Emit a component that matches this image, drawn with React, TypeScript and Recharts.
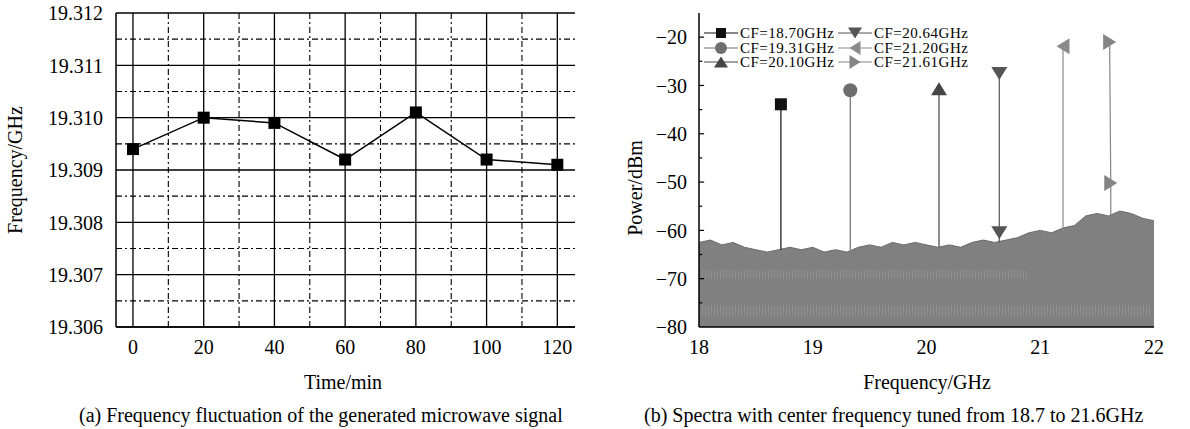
import React from 'react';
import { ComposedChart, LineChart, Line, Area, XAxis, YAxis, CartesianGrid, ReferenceLine, ReferenceArea } from 'recharts';

const FONT = '"Liberation Serif", "Times New Roman", serif';

// ---- (a) frequency fluctuation ----
const timeMin = [0, 20, 40, 60, 80, 100, 120];
const freqGHz = [19.3094, 19.31, 19.3099, 19.3092, 19.3101, 19.3092, 19.3091];
const freqTicks = [19.306, 19.307, 19.308, 19.309, 19.31, 19.311, 19.312];
const freqMinor = [19.3065, 19.3075, 19.3085, 19.3095, 19.3105, 19.3115];
const timeTicks = [0, 20, 40, 60, 80, 100, 120];
const timeMinor = [10, 30, 50, 70, 90, 110];

// ---- (b) spectra ----
const noiseFreq = [
  18.0, 18.1, 18.2, 18.3, 18.4, 18.5, 18.6, 18.7, 18.8, 18.9, 19.0, 19.1, 19.2, 19.3,
  19.4, 19.5, 19.6, 19.7, 19.8, 19.9, 20.0, 20.1, 20.2, 20.3, 20.4, 20.5, 20.6, 20.7,
  20.8, 20.9, 21.0, 21.1, 21.2, 21.3, 21.4, 21.5, 21.6, 21.7, 21.8, 21.9, 22.0,
];
const noiseTop = [
  -62.5, -62.0, -63.0, -62.5, -63.5, -64.0, -64.5, -64.0, -63.5, -64.0, -63.5, -64.5, -64.0, -64.5,
  -63.5, -63.0, -63.5, -62.5, -63.0, -62.5, -63.0, -63.5, -63.0, -63.5, -62.5, -62.0, -62.5, -62.0,
  -61.5, -60.5, -60.0, -60.5, -59.5, -59.0, -57.0, -56.5, -57.0, -56.0, -56.5, -57.5, -58.0,
];
const cfLabels = ['CF=18.70GHz', 'CF=19.31GHz', 'CF=20.10GHz', 'CF=20.64GHz', 'CF=21.20GHz', 'CF=21.61GHz'];
const peakFreq = [18.72, 19.33, 20.11, 20.64, 21.2, 21.61];
const peakPower = [-33.9, -31.0, -30.7, -27.5, -21.9, -21.0];
const spikeBase = [-64, -64, -63.5, -62.5, -60, -58];
const extraFreq = [null, null, null, 20.64, null, 21.62];
const extraPower = [null, null, null, -60.5, null, -50.2];
const markerShapes = ['square', 'circle', 'up', 'down', 'left', 'right'];
const markerColors = ['#111111', '#6e6e6e', '#454545', '#555555', '#8a8a8a', '#848484'];
const powerTicks = [-80, -70, -60, -50, -40, -30, -20];
const powerMinor = [-75, -65, -55, -45, -35, -25];
const ghzTicks = [18, 19, 20, 21, 22];

const fluctData = timeMin.map((t, i) => ({ t, f: freqGHz[i] }));
const noiseData = noiseFreq.map((f, i) => ({ f, p: noiseTop[i] }));
const spikeData = peakFreq.map((pf, i) => {
  const pts: any[] = [{ f: pf, p: peakPower[i], mark: true }];
  if (extraFreq[i] != null) pts.push({ f: extraFreq[i], p: extraPower[i], mark: true });
  pts.push({ f: extraFreq[i] ?? pf, p: spikeBase[i] });
  return pts;
});

const Marker = ({ cx, cy, shape, color, size = 13 }: any) => {
  const h = size / 2;
  switch (shape) {
    case 'square':
      return <rect x={cx - h + 0.5} y={cy - h + 0.5} width={size - 1} height={size - 1} fill={color} />;
    case 'circle':
      return <circle cx={cx} cy={cy} r={h + 0.5} fill={color} />;
    case 'up':
      return <polygon points={`${cx},${cy - h} ${cx + h + 1.5},${cy + h} ${cx - h - 1.5},${cy + h}`} fill={color} />;
    case 'down':
      return <polygon points={`${cx},${cy + h} ${cx + h + 1.5},${cy - h} ${cx - h - 1.5},${cy - h}`} fill={color} />;
    case 'left':
      return <polygon points={`${cx - h},${cy} ${cx + h},${cy - h - 1.5} ${cx + h},${cy + h + 1.5}`} fill={color} />;
    default:
      return <polygon points={`${cx + h},${cy} ${cx - h},${cy - h - 1.5} ${cx - h},${cy + h + 1.5}`} fill={color} />;
  }
};

const minus = (v: number) => String(v).replace('-', '\u2212');

// serif tick text, drawn at the position recharts hands over
const SerifTick = ({ x, y, payload, textAnchor, fmt, vertical }: any) => (
  <text x={x} y={y} textAnchor={textAnchor} dy={vertical ? '0.36em' : '0.71em'}
    style={{ fontFamily: FONT, fontSize: 20, fill: '#000' }}>
    {fmt ? fmt(payload.value) : payload.value}
  </text>
);

const text = (left: number, top: number, s: string, extra: any = {}) => (
  <div style={{ position: 'absolute', left, top, fontSize: 20, lineHeight: '20px', whiteSpace: 'nowrap', ...extra }}>{s}</div>
);

const SpectrumLegend = () => (
  <div style={{ position: 'absolute', left: 704, top: 26 }}>
    {cfLabels.map((lab, i) => {
      const col = Math.floor(i / 3);
      const row = i % 3;
      return (
        <div key={lab} style={{ position: 'absolute', left: col * 134, top: row * 14.5, display: 'flex', alignItems: 'center', height: 14 }}>
          <svg width={34} height={14} style={{ overflow: 'visible' }}>
            <line x1={0} y1={7} x2={34} y2={7} stroke={markerColors[i]} strokeWidth={1.2} />
            <Marker cx={17} cy={7} shape={markerShapes[i]} color={markerColors[i]} size={11} />
          </svg>
          <span style={{ fontSize: 15, letterSpacing: 0.5, marginLeft: 2, lineHeight: '14px', whiteSpace: 'nowrap' }}>{lab}</span>
        </div>
      );
    })}
  </div>
);

export default function App() {
  return (
    <div style={{ position: 'absolute', left: 0, top: 0, width: 1190, height: 429, background: '#fff', fontFamily: FONT, color: '#000', overflow: 'hidden' }}>
      {/* (a) */}
      <div style={{ position: 'absolute', left: 0, top: 0 }}>
        <LineChart width={600} height={360} data={fluctData} margin={{ top: 13, right: 25, left: 0, bottom: 0 }}>
          <CartesianGrid horizontalValues={freqTicks} verticalValues={timeTicks} stroke="#000" strokeWidth={1.3} />
          <CartesianGrid horizontalValues={freqMinor} verticalValues={timeMinor} stroke="#000" strokeWidth={1.1} strokeDasharray="6 3 2 3" />
          <XAxis dataKey="t" type="number" domain={[-4.8, 125]} ticks={timeTicks} allowDataOverflow
            tick={<SerifTick />} tickSize={0} tickMargin={13} height={33} axisLine={{ stroke: '#000', strokeWidth: 1.5 }} />
          <XAxis xAxisId="top" orientation="top" type="number" domain={[0, 1]} height={0} tick={false} tickLine={false}
            axisLine={{ stroke: '#000', strokeWidth: 1.5 }} />
          <YAxis type="number" domain={[19.306, 19.312]} ticks={freqTicks} allowDataOverflow
            tick={<SerifTick vertical fmt={(v: number) => v.toFixed(3)} />} tickSize={0} tickMargin={13} width={116}
            axisLine={{ stroke: '#000', strokeWidth: 1.5 }} />
          <YAxis yAxisId="right" orientation="right" type="number" domain={[0, 1]} width={0} tick={false} tickLine={false}
            axisLine={{ stroke: '#000', strokeWidth: 1.5 }} />
          <Line dataKey="f" stroke="#000" strokeWidth={1.5} isAnimationActive={false}
            dot={(p: any) => <Marker key={p.index} cx={p.cx} cy={p.cy} shape="square" color="#000" size={13} />} />
        </LineChart>
      </div>
      {text(15 - 80, 160, 'Frequency/GHz', { width: 160, textAlign: 'center', transform: 'rotate(-90deg)' })}
      {text(263, 372, 'Time/min', { width: 160, textAlign: 'center' })}
      {text(79, 405, '(a) Frequency fluctuation of the generated microwave signal')}

      {/* (b) */}
      <div style={{ position: 'absolute', left: 600, top: 0 }}>
        <ComposedChart width={580} height={360} margin={{ top: 13, right: 26, left: 0, bottom: 0 }}>
          <defs>
            <pattern id="streak" width="3" height="4" patternUnits="userSpaceOnUse">
              <rect x="0" y="0" width="1" height="4" fill="#b4b4b4" />
            </pattern>
          </defs>
          <XAxis dataKey="f" type="number" domain={[18, 22]} ticks={ghzTicks} allowDataOverflow
            tick={<SerifTick />} tickSize={0} tickMargin={13} height={33} axisLine={{ stroke: '#000', strokeWidth: 1.5 }} />
          <XAxis xAxisId="top" orientation="top" type="number" domain={[0, 1]} height={0} tick={false} tickLine={false}
            axisLine={{ stroke: '#000', strokeWidth: 1.5 }} />
          <YAxis type="number" domain={[-80, -15]} ticks={powerTicks} allowDataOverflow
            tick={<SerifTick vertical fmt={minus} />} tickSize={0} tickMargin={12} width={99}
            axisLine={{ stroke: '#000', strokeWidth: 1.5 }} />
          <YAxis yAxisId="right" orientation="right" type="number" domain={[0, 1]} width={0} tick={false} tickLine={false}
            axisLine={{ stroke: '#000', strokeWidth: 1.5 }} />
          {spikeData.map((d, i) => (
            <Line key={cfLabels[i]} data={d} dataKey="p" stroke={markerColors[i]} strokeWidth={1.2} isAnimationActive={false}
              dot={(p: any) => p.payload.mark
                ? <Marker key={p.index} cx={p.cx} cy={p.cy} shape={markerShapes[i]} color={markerColors[i]} size={13} />
                : <g key={p.index} />} />
          ))}
          <Area data={noiseData} dataKey="p" baseValue={-80} type="linear" stroke="#6a6a6a" strokeWidth={1} fill="#808080"
            fillOpacity={1} isAnimationActive={false} dot={false} activeDot={false} />
          <ReferenceArea x1={18.02} x2={20.9} y1={-70} y2={-68.2} fill="url(#streak)" fillOpacity={0.3} stroke="none" />
          <ReferenceArea x1={18.02} x2={21.98} y1={-77.8} y2={-75.5} fill="url(#streak)" fillOpacity={0.3} stroke="none" />
          {powerTicks.slice(1).map((v) => (
            <ReferenceLine key={'M' + v} segment={[{ x: 18, y: v }, { x: 18.045, y: v }]} stroke="#000" strokeWidth={1.2} ifOverflow="visible" />
          ))}
          {powerMinor.map((v) => (
            <ReferenceLine key={'m' + v} segment={[{ x: 18, y: v }, { x: 18.028, y: v }]} stroke="#000" strokeWidth={1.2} ifOverflow="visible" />
          ))}
        </ComposedChart>
      </div>
      <SpectrumLegend />
      {text(635 - 80, 178, 'Power/dBm', { width: 160, textAlign: 'center', transform: 'rotate(-90deg)' })}
      {text(847, 372, 'Frequency/GHz', { width: 160, textAlign: 'center' })}
      {text(644, 405, '(b) Spectra with center frequency tuned from 18.7 to 21.6GHz')}
    </div>
  );
}
